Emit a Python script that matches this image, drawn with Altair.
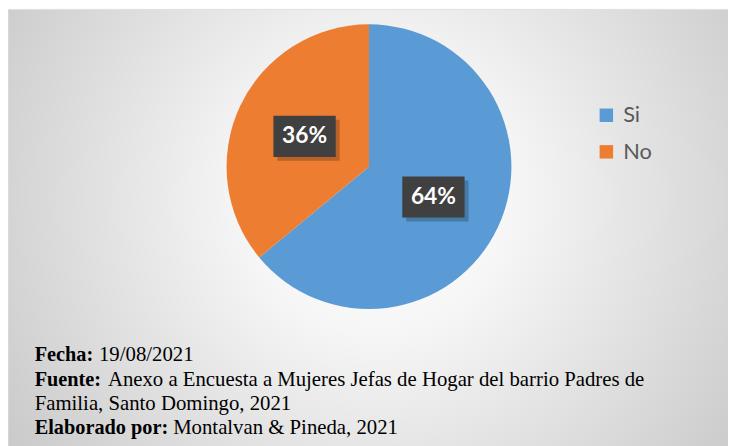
import math
import altair as alt
import pandas as pd

# ---- data ----
categorias = ["Si", "No"]
valores = [64, 36]
etiquetas = ["64%", "36%"]
colores = ["#5B9BD5", "#ED7D31"]

pie_bold = ["Fecha:", "Fuente:", "", "Elaborado por:"]
pie_texto = [
    "19/08/2021",
    "Anexo a Encuesta a Mujeres Jefas de Hogar del barrio Padres de",
    "Familia, Santo Domingo, 2021",
    "Montalvan & Pineda, 2021",
]

# ---- layout ----
W, H = 728, 438
CX, CY, R = 365, 158, 144
RL = 72  # label radius
FOOT_X0 = 27
FOOT_Y0 = 354.7
FOOT_DY = 24.7
FOOT_TEXT_X = [92, 101, 27, 167]

df = pd.DataFrame({"categoria": categorias, "valor": valores,
                   "etiqueta": etiquetas, "orden": list(range(len(categorias)))})
total = sum(valores)
cum = df["valor"].cumsum()
df["mid"] = (cum - df["valor"] / 2) / total * 2 * math.pi
df["lx"] = CX + RL * df["mid"].apply(math.sin)
df["ly"] = CY - RL * df["mid"].apply(math.cos)
df["sx"] = df["lx"] + 4
df["sy"] = df["ly"] + 4

fondo = alt.Chart(alt.Data(values=[{}])).mark_rect(
    fill=alt.RadialGradient(
        gradient="radial",
        x1=0.5, y1=0.45, r1=0.0,
        x2=0.5, y2=0.45, r2=0.72,
        stops=[alt.GradientStop(offset=0.0, color="#ffffff"),
               alt.GradientStop(offset=0.25, color="#f6f6f6"),
               alt.GradientStop(offset=1.0, color="#bdbdbd")],
    ),
    stroke="#e0e0e0", strokeWidth=1,
).encode(x=alt.value(0), x2=alt.value(W + 20), y=alt.value(-1), y2=alt.value(H + 20))

pastel = alt.Chart(df).mark_arc(outerRadius=R).encode(
    theta=alt.Theta("valor:Q", stack=True),
    color=alt.Color("categoria:N",
                    scale=alt.Scale(domain=categorias, range=colores),
                    sort=categorias,
                    legend=alt.Legend(orient="none", legendX=594, legendY=95,
                                      title=None, symbolType="square",
                                      symbolSize=185, symbolStrokeWidth=0,
                                      labelFont="Lato", labelFontSize=22,
                                      labelColor="#595959", labelOffset=6,
                                      rowPadding=15, padding=0)),
    order=alt.Order("orden:Q"),
    x=alt.value(CX), y=alt.value(CY),
)

box_shape = "M-1,-0.66H1V0.66H-1Z"
sombra = alt.Chart(df).mark_point(shape=box_shape, size=63 * 63, filled=True,
                                  color="#000000", opacity=0.22).encode(
    x=alt.X("sx:Q", scale=None), y=alt.Y("sy:Q", scale=None))
caja = alt.Chart(df).mark_point(shape=box_shape, size=63 * 63, filled=True,
                                color="#404040", opacity=1).encode(
    x=alt.X("lx:Q", scale=None), y=alt.Y("ly:Q", scale=None))
texto = alt.Chart(df).mark_text(font="Lato", fontSize=23, fontWeight="bold",
                                color="#ffffff", baseline="middle", align="center").encode(
    x=alt.X("lx:Q", scale=None), y=alt.Y("ly:Q", scale=None), text="etiqueta:N")

pie_df = pd.DataFrame({"bold": pie_bold, "texto": pie_texto,
                       "linea": list(range(len(pie_texto)))})
pie_df["y"] = FOOT_Y0 + pie_df["linea"] * FOOT_DY
pie_df["xt"] = FOOT_TEXT_X

pie_b = alt.Chart(pie_df).mark_text(font="Liberation Serif", fontSize=20.5, fontWeight="bold",
                                    color="#000000", align="left", baseline="alphabetic").encode(
    x=alt.value(FOOT_X0), y=alt.Y("y:Q", scale=None), text="bold:N")
pie_t = alt.Chart(pie_df).mark_text(font="Liberation Serif", fontSize=21,
                                    color="#000000", align="left", baseline="alphabetic").encode(
    x=alt.X("xt:Q", scale=None), y=alt.Y("y:Q", scale=None), text="texto:N")

chart = alt.layer(fondo, pastel, sombra, caja, texto, pie_b, pie_t).properties(
    width=W, height=H, autosize="none", padding=0
).configure_view(stroke=None)

chart.save("out.html", embed_options={"renderer": "svg", "actions": False})
